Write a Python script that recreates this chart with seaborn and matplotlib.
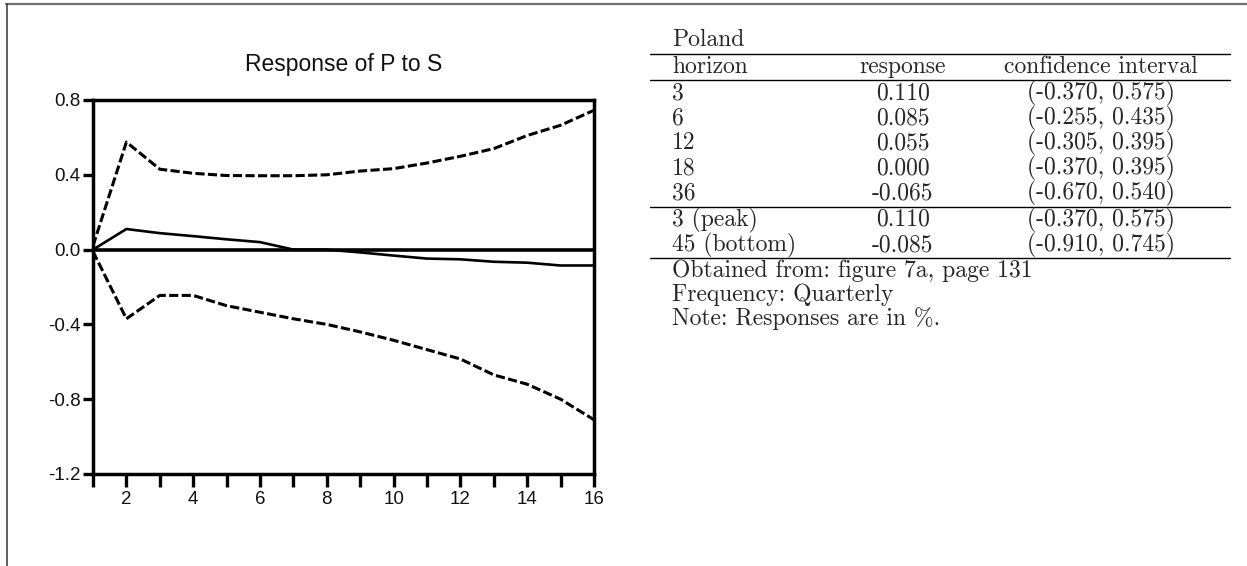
import numpy as np
import pandas as pd
import seaborn as sns
import matplotlib.pyplot as plt
from matplotlib.lines import Line2D

sns.set_style("white")
plt.rcParams['font.family'] = ['Liberation Sans', 'DejaVu Sans']

# impulse response, quarters 1..16
horizon = list(range(1, 17))
response = [0.0, 0.110, 0.088, 0.072, 0.055, 0.040, 0.0, 0.0,
            -0.015, -0.032, -0.048, -0.052, -0.065, -0.070, -0.085, -0.085]
upper = [0.02, 0.575, 0.430, 0.408, 0.396, 0.395, 0.395, 0.400,
         0.420, 0.433, 0.463, 0.499, 0.540, 0.610, 0.665, 0.745]
lower = [-0.01, -0.370, -0.245, -0.245, -0.300, -0.335, -0.370, -0.400,
         -0.440, -0.485, -0.535, -0.585, -0.670, -0.720, -0.800, -0.910]

yticks = [0.8, 0.4, 0.0, -0.4, -0.8, -1.2]
ytick_labels = ["0.8", "0.4", "0.0", "-0.4", "-0.8", "-1.2"]
xtick_labels = [str(h) if h % 2 == 0 else "" for h in horizon]

# table on the right
tab_title = "Poland"
tab_header = ["horizon", "response", "confidence interval"]
tab_horizon = ["3", "6", "12", "18", "36", "3 (peak)", "45 (bottom)"]
tab_response = ["0.110", "0.085", "0.055", "0.000", "-0.065", "0.110", "-0.085"]
tab_ci = ["(-0.370, 0.575)", "(-0.255, 0.435)", "(-0.305, 0.395)", "(-0.370, 0.395)",
          "(-0.670, 0.540)", "(-0.370, 0.575)", "(-0.910, 0.745)"]
notes = ["Obtained from: figure 7a, page 131", "Frequency: Quarterly",
         "Note: Responses are in %."]

W, H = 1247, 566
fig = plt.figure(figsize=(W / 100, H / 100), dpi=100)
ax = fig.add_axes([93 / W, 1 - 474 / H, 501 / W, 374 / H])

df = pd.DataFrame({"h": horizon, "resp": response, "up": upper, "lo": lower})
sns.lineplot(data=df, x="h", y="resp", ax=ax, color="black", linewidth=1.9)
sns.lineplot(data=df, x="h", y="up", ax=ax, color="black", linewidth=2.2,
             linestyle=(0, (3, 1.1)))
sns.lineplot(data=df, x="h", y="lo", ax=ax, color="black", linewidth=2.2,
             linestyle=(0, (3, 1.1)))
ax.axhline(0, color="black", linewidth=2.6)

ax.set_xlim(1, 16)
ax.set_ylim(-1.2, 0.8)
ax.set_xticks(horizon)
ax.set_xticklabels(xtick_labels)
ax.set_yticks(yticks)
ax.set_yticklabels(ytick_labels)
ax.set_xlabel("")
ax.set_ylabel("")
ax.tick_params(axis="both", direction="out", labelsize=13.5, color="black",
               width=2.4, labelcolor="#111111", bottom=True, left=True)
ax.tick_params(axis="x", length=9, pad=3.5)
ax.tick_params(axis="y", length=7, pad=2)
for sp in ax.spines.values():
    sp.set_linewidth(2.5)
    sp.set_color("black")
ax.set_title("Response of P to S", fontsize=16.5, pad=21, color="#111111")

# table text
serif = ['cmr10', 'DejaVu Serif']
fs = 17
def fy(px):
    return 1 - px / H

x_left, x_resp, x_ci = 672 / W, 903 / W, 1101 / W
fig.text(x_left, fy(46.5), tab_title, family=serif, fontsize=fs, va="baseline")
fig.text(x_left, fy(73), tab_header[0], family=serif, fontsize=fs, va="baseline")
fig.text(x_resp, fy(73), tab_header[1], family=serif, fontsize=fs, va="baseline", ha="center")
fig.text(x_ci, fy(73), tab_header[2], family=serif, fontsize=fs, va="baseline", ha="center")
row_y = [99.3, 124.3, 149.3, 174.3, 199.3, 226, 251]
for yy, a, b, c in zip(row_y, tab_horizon, tab_response, tab_ci):
    fig.text(x_left, fy(yy), a, family=serif, fontsize=fs, va="baseline")
    fig.text(x_resp, fy(yy), b, family=serif, fontsize=fs, va="baseline", ha="center")
    fig.text(x_ci, fy(yy), c, family=serif, fontsize=fs, va="baseline", ha="center")
for yy, t in zip([277.5, 301.5, 325.5], notes):
    fig.text(x_left, fy(yy), t, family=serif, fontsize=fs, va="baseline")

for yy in [54, 80, 207, 257.5]:
    fig.add_artist(Line2D([650 / W, 1230 / W], [fy(yy)] * 2, color="black",
                          linewidth=1.0, transform=fig.transFigure))

# page frame
fig.add_artist(Line2D([6 / W, 1], [fy(4)] * 2, color="#707070", linewidth=1.6,
                      transform=fig.transFigure))
fig.add_artist(Line2D([7 / W] * 2, [fy(4), 0], color="#333333", linewidth=1.1,
                      transform=fig.transFigure))

fig.savefig("out.png", dpi=100)
